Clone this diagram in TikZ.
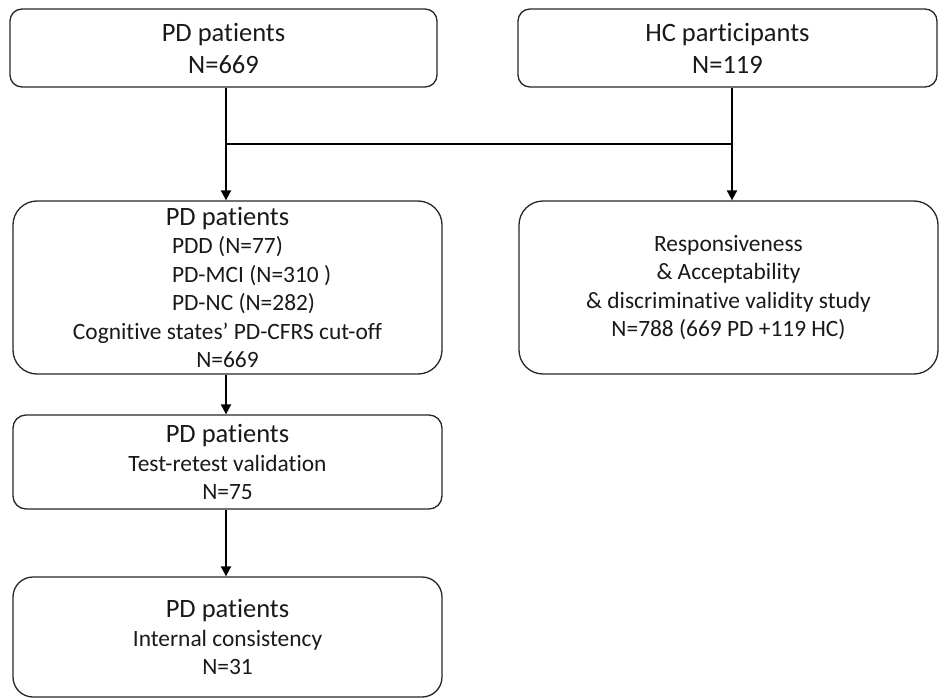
\documentclass[tikz,border=0pt]{standalone}
\usepackage{fontspec}
\setmainfont{Carlito}[Ligatures={NoCommon}]
\usetikzlibrary{arrows.meta}
\tikzset{
  box/.style={draw=black!85, line width=1.3pt, inner sep=0pt, align=center, text=black!90,
    font=\fontsize{23.4}{28.5}\selectfont},
  conn/.style={line width=2pt, draw=black},
  arr/.style={conn, -{Triangle[width=10pt,length=10pt]}},
}
\newcommand{\bigline}[1]{{\fontsize{26.5}{29}\selectfont #1}}
\newcommand{\indline}[1]{\hspace*{46pt}\makebox[157pt][l]{#1}}
\begin{document}
\begin{tikzpicture}[x=1pt,y=-1pt]
\useasboundingbox (0,0) rectangle (940,698);
\node[box, rounded corners=12pt, minimum width=427pt, minimum height=78pt,
  font=\fontsize{26.5}{32}\selectfont] (b1) at (223.5,48) {PD patients\\N=669};
\node[box, rounded corners=12pt, minimum width=419pt, minimum height=78pt,
  font=\fontsize{26.5}{32}\selectfont] (b2) at (727.5,48) {HC participants\\N=119};
\node[box, rounded corners=24pt, minimum width=429pt, minimum height=173pt] (b3) at (227.5,287.5)
  {\bigline{PD patients}\\
   \indline{PDD (N=77)}\\
   \indline{PD-MCI (N=310 )}\\
   \indline{PD-NC (N=282)}\\
   Cognitive states’ PD-CFRS cut-off\\
   N=669};
\node[box, rounded corners=24pt, minimum width=419pt, minimum height=173pt] (b4) at (728.5,287.5)
  {Responsiveness\\ \& Acceptability\\ \& discriminative validity study\\ N=788 (669 PD +119 HC)};
\node[box, rounded corners=13pt, minimum width=429pt, minimum height=94pt] (b5) at (227.5,462)
  {\bigline{PD patients}\\Test-retest validation\\N=75};
\node[box, rounded corners=20pt, minimum width=429pt, minimum height=120pt] (b6) at (227.5,637)
  {\bigline{PD patients}\\Internal consistency\\N=31};
\coordinate (j1) at (226,144);
\coordinate (j2) at (732,144);
\draw[conn] (b1.south -| j1) -- (j1);
\draw[arr] (j1) -- (b3.north -| j1);
\draw[conn] (b2.south -| j2) -- (j2);
\draw[arr] (j2) -- (b4.north -| j2);
\draw[conn] (j1) -- (j2);
\draw[arr] (b3.south -| j1) -- (b5.north -| j1);
\draw[arr] (b5.south -| j1) -- (b6.north -| j1);
\end{tikzpicture}
\end{document}
